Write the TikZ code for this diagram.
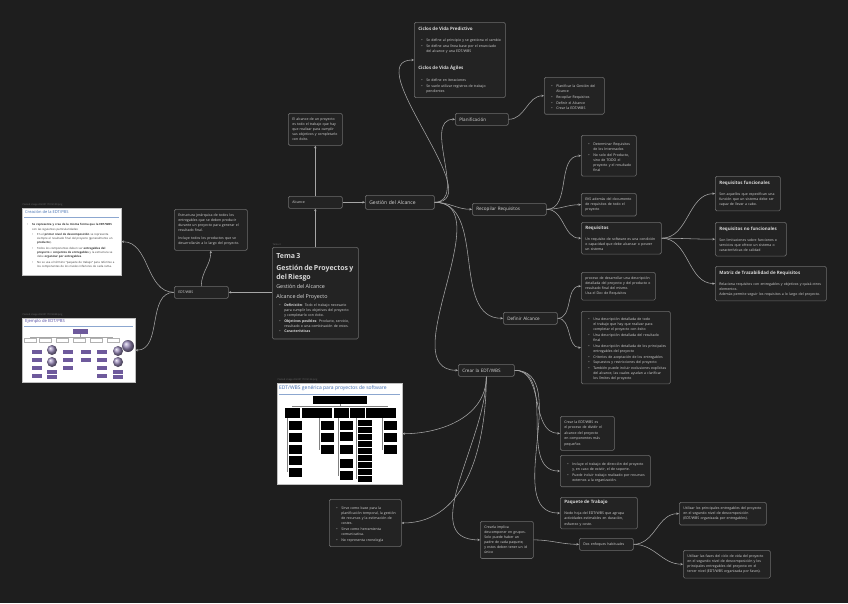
\documentclass[tikz,border=0pt]{standalone}
\usepackage{fontspec}
\setmainfont{Open Sans}
\usetikzlibrary{arrows.meta,positioning,shadings}
\definecolor{bg}{HTML}{1E1E1E}
\definecolor{cardfill}{HTML}{232323}
\definecolor{cardline}{HTML}{6C6C6C}
\definecolor{linkc}{HTML}{A6A6A6}
\definecolor{txt}{HTML}{D8D8D8}
\definecolor{capgray}{HTML}{6A6A6A}
\definecolor{imgblue}{HTML}{3F6CB0}
\definecolor{wbspurple}{HTML}{6E5A9C}
\hyphenpenalty=10000
\exhyphenpenalty=10000
\newcommand\fs[2]{\fontsize{#1}{#2}\selectfont}
\newcommand\bul[1]{\par\vspace{0.6pt}\noindent\hangindent=8pt\hangafter=1\hspace*{3pt}\makebox[5pt][l]{\textbullet}#1\par}
\newcommand\subbul[1]{\par\vspace{1.5pt}\noindent\hangindent=13pt\hangafter=1\hspace*{8pt}\makebox[5pt][l]{\textbullet}#1\par}
\newcommand\ttl[1]{\vspace*{1.5pt}{\fs{4.5}{6}\bfseries #1}\par\vspace{4.5pt}}

\begin{document}
\begin{tikzpicture}[x=1pt,y=-1pt,
    card/.style={draw=cardline,fill=cardfill,line width=0.6pt,rounded corners=1.5pt,anchor=north west,align=left,text=txt,inner xsep=4pt,inner ysep=4.5pt,font=\fs{3.5}{5.1}},
    topic/.style={card,inner ysep=3pt,minimum height=12pt,font=\fs{4.6}{5.5}},
    imgcap/.style={anchor=south west,inner sep=0.5pt,text=capgray,font=\fs{2.4}{3}},
    pic/.style={draw=gray!50,fill=white,anchor=north west,inner sep=0pt},
    link/.style={draw=linkc,line width=0.55pt,-{Stealth[length=2.6pt,width=2.4pt]}},
]
\useasboundingbox[fill=bg] (0,0) rectangle (848,603);

% central topic
\node[card,text width=78pt,inner ysep=6pt] (tema) at (272,247) {%
  {\fs{7}{8.6}\bfseries Tema 3\par\vspace{3.5pt}Gestión de Proyectos y del Riesgo\par}\vspace{2.5pt}
  {\fs{5.4}{7}Gestión del Alcance\par\vspace{3pt}Alcance del Proyecto\par}\vspace{2pt}
  \bul{\textbf{Definición}: Todo el trabajo necesario para cumplir los objetivos del proyecto y completarlo con éxito.}
  \bul{\textbf{Objetivos posibles}: Producto, servicio, resultado o una combinación de estos.}
  \bul{\textbf{Características}}};
\node[imgcap] at (272,246) {Tema 3};

\node[card,inner ysep=3pt,minimum height=12pt,text width=46pt] (alc) at (288,196) {Alcance};
\node[card,text width=46pt] (alctxt) at (288,113) {El alcance de un proyecto es todo el trabajo que hay que realizar para cumplir sus objetivos y completarlo con éxito.};
\node[topic,minimum height=14pt,text width=61pt,font=\fs{5}{6}] (gest) at (365,195) {Gestión del Alcance};

\node[card,text width=83pt] (ciclos) at (414,22) {%
  \ttl{Ciclos de Vida Predictivo}
  \bul{Se define al principio y se gestiona el cambio}
  \bul{Se define una línea base por el enunciado del alcance y una EDT/WBS}\vspace{10pt}
  \ttl{Ciclos de Vida Ágiles}\vspace{2pt}
  \bul{Se define en iteraciones}
  \bul{Se suele utilizar registros de trabajo pendientes}};

\node[topic,text width=45pt] (plan) at (455,113) {Planificación};
\node[card,text width=52pt] (planlist) at (544,77) {%
  \bul{Planificar la Gestión del Alcance}
  \bul{Recopilar Requisitos}
  \bul{Definir el Alcance}
  \bul{Crear la EDT/WBS}};

\node[topic,text width=66pt] (recop) at (472,203) {Recopilar Requisitos};
\node[card,text width=47pt] (reclist) at (581,135) {%
  \bul{Determinar Requisitos de los Interesados}
  \bul{No solo del Producto, sino de TODO el proyecto y el resultado final}};
\node[card,text width=47pt] (eks) at (581,193) {EKS además del documento de requisitos de todo el proyecto};
\node[card,text width=72pt,inner ysep=3.5pt] (req) at (581,222) {\ttl{Requisitos}Un requisito de software es una condición o capacidad que debe alcanzar o poseer un sistema};
\node[card,text width=57pt] (reqf) at (715,176) {\ttl{Requisitos funcionales}Son aquellos que especifican una función que un sistema debe ser capaz de llevar a cabo.};
\node[card,text width=63pt] (reqnf) at (715,222) {\ttl{Requisitos no funcionales}Son limitaciones sobre funciones o servicios que ofrece un sistema o características de calidad};
\node[card,text width=103pt] (matriz) at (715,266) {\ttl{Matriz de Trazabilidad de Requisitos}Relaciona requisitos con entregables y objetivos y quizá otros elementos.\par Además permite seguir los requisitos a lo largo del proyecto.};

\node[topic,text width=46pt] (defin) at (503,312) {Definir Alcance};
\node[card,text width=66pt] (def1) at (581,272) {proceso de desarrollar una descripción detallada del proyecto y del producto o resultado final del mismo.\par Usa el Doc de Requisitos};
\node[card,text width=81pt,inner ysep=3.5pt] (def2) at (581,311) {%
  \bul{Una descripción detallada de todo el trabajo que hay que realizar para completar el proyecto con éxito}
  \bul{Una descripción detallada del resultado final}
  \bul{Una descripción detallada de los principales entregables del proyecto}
  \bul{Criterios de aceptación de los entregables}
  \bul{Supuestos y restricciones del proyecto}
  \bul{También puede incluir exclusiones explícitas del alcance, las cuales ayudan a clarificar los límites del proyecto}};

\node[topic,text width=48pt] (crear) at (458,364) {Crear la EDT/WBS};
\node[card,text width=46pt,font=\fs{3.5}{5.4}] (crear1) at (560,416) {Crear la EDT/WBS es el proceso de dividir el alcance del proyecto en componentes más pequeños};
\node[card,text width=82pt] (crear2) at (560,455) {%
  \bul{Incluye el trabajo de dirección del proyecto y, en caso de existir, el de soporte.}
  \bul{Puede incluir trabajo realizado por recursos externos a la organización.}};
\node[card,text width=69pt,inner ysep=3pt] (paquete) at (560,497) {\ttl{Paquete de Trabajo}Nodo hoja del EDT/WBS que agrupa actividades estimables en duración, esfuerzo y coste.};
\node[card,text width=45pt] (crearla) at (480,521) {Crearla implica descomponer en grupos. Solo puede haber un padre de cada paquete, y estos deben tener un id único};
\node[card,inner ysep=3pt,minimum height=12pt,text width=46pt] (dos) at (579,538) {Dos enfoques habituales};
\node[card,text width=79pt] (enf1) at (679,502) {Utilizar los principales entregables del proyecto en el segundo nivel de descomposición (EDT/WBS organizada por entregables).};
\node[card,text width=79pt] (enf2) at (683,550) {Utilizar las fases del ciclo de vida del proyecto en el segundo nivel de descomposición y los principales entregables del proyecto en el tercer nivel (EDT/WBS organizada por fases).};
\node[card,text width=64pt] (sirve) at (329,499) {%
  \bul{Sirve como base para la planificación temporal, la gestión de recursos y la estimación de costes.}
  \bul{Sirve como herramienta comunicativa.}
  \bul{No representa cronología}};

\node[card,inner ysep=3pt,minimum height=12pt,text width=46pt] (edt) at (174,286) {EDT/WBS};
\node[card,text width=65pt] (estr) at (174,209) {Estructura jerárquica de todos los entregables que se deben producir durante un proyecto para generar el resultado final.\par\vspace{3pt}Incluye todos los productos que se desarrollarán a lo largo del proyecto.};

% pasted images
\node[pic,minimum width=99pt,minimum height=67pt] (creacion) at (22,208) {};
\node[imgcap] at (22,207) {Pasted image 20230117014109.png};
\node[anchor=north west,inner sep=0pt,text=imgblue,font=\fs{4}{5}] at (25,210.5) {Creación de la EDT/PBS};
\draw[imgblue!60,line width=0.4pt] (24,217) -- (119,217);
\node[anchor=north west,inner sep=0pt,text width=93pt,align=left,text=black!80,font=\fs{2.8}{4.1}] at (24,221) {%
  \bul{\textbf{Se representa y crea de la misma forma que la EDT/WBS} con las siguientes particularidades:}
  \subbul{En el \textbf{primer nivel de descomposición} se representa siempre el resultado final del proyecto (generalmente un \textbf{producto}).}
  \subbul{Todos los componentes deben ser \textbf{entregables del proyecto} o \textbf{conjuntos de entregables} y la estructura se debe \textbf{organizar por entregables}.}
  \subbul{No se usa el término “paquete de trabajo” para referirse a los componentes de los niveles inferiores de cada rama.}};

\node[pic,minimum width=113pt,minimum height=64pt] (ejemplo) at (22,318) {};
\node[imgcap] at (22,317) {Pasted image 20230117014048.png};
\node[anchor=north west,inner sep=0pt,text=imgblue!70!violet,font=\fs{4.2}{5}] at (25,319.5) {Ejemplo de EDT/PBS};
\draw[imgblue!60,line width=0.4pt] (24,326.5) -- (133,326.5);
\fill[wbspurple] (73,329) rectangle (88,334);
\draw[gray!70,line width=0.3pt] (80.5,334) -- (80.5,337) (30,337) -- (113,337);
\foreach \cx in {30,45,62,79,96,113}
  \draw[gray!60,fill=white,line width=0.3pt] (\cx-6,338.5) rectangle (\cx+6,342.5);
\foreach \cx/\cy in {37/352,37/360,37/368,37/376,68/352,68/360,68/368,86/352,86/360,102/352,102/360,102/368,102/376,52/372,52/377,118/372,118/377}
  \fill[wbspurple] (\cx-5,\cy-2) rectangle (\cx+5,\cy+2);
\foreach \cx/\cy/\r in {52/350/5,52/362/5,118/351/5,118/362/5,128/346/6}
  \shade[ball color=wbspurple!70] (\cx,\cy) circle (\r);

\node[pic,minimum width=125pt,minimum height=101pt] (generica) at (277,383) {};
\node[imgcap] at (277,382) {Pasted image 20230117014124.png};
\node[anchor=north west,inner sep=0pt,text=imgblue,font=\fs{5}{6}] at (279,385.5) {EDT/WBS genérica para proyectos de software};
\draw[imgblue!60,line width=0.4pt] (279,394.5) -- (400,394.5);
\fill[black] (313,396) rectangle (367,404);
\draw[gray,line width=0.3pt] (340,404) -- (340,406) (292,406) -- (388,406);
\foreach \cx in {292,309,324,341,357,373,388}
  \fill[black] (\cx-7.5,407.5) rectangle (\cx+7.5,417.5);
\foreach \cx/\cy in {295.5/421,295.5/433,295.5/445,295.5/456,295.5/468,327.5/421,327.5/433,327.5/445,346.5/421,346.5/432,346.5/445,346.5/459,346.5/471,390/421,390/433,390/445}
  \fill[black] (\cx-6.5,\cy) rectangle (\cx+6.5,\cy+9);
\foreach \cy in {420,427,434,441,448,455,462,469,476}
  \fill[black] (358,\cy) rectangle (372,\cy+6);
\draw[gray,line width=0.3pt] (287,418) -- (287,472) (319,418) -- (319,450) (338,418) -- (338,476) (356,418) -- (356,479) (382,418) -- (382,450);

% connectors
\draw[link] (alc.east) -- (gest.west);
\draw[link] (alc.north) -- (alctxt.south);
\draw[link] (tema.north) -- (alc.south);
\draw[link] (edt.east -| tema.west) -- (edt.east);
\draw[link] (edt.north) to[out=90,in=-90] (estr.south);
\draw[link] (edt.west) to[out=180,in=0] (creacion.east);
\draw[link] (edt.west) to[out=180,in=0] (ejemplo.east);
\draw[link] (gest.east) to[out=0,in=180] (ciclos.west);
\draw[link] (gest.east) to[out=0,in=180] (plan.west);
\draw[link] (plan.east) to[out=0,in=180] (planlist.west);
\draw[link] (gest.east) to[out=0,in=180] (recop.west);
\draw[link] (gest.east) to[out=0,in=180] (defin.west);
\draw[link] (gest.east) to[out=0,in=180] (crear.west);
\draw[link] (recop.east) to[out=0,in=180] (reclist.west);
\draw[link] (recop.east) to[out=0,in=180] (eks.west);
\draw[link] (recop.east) to[out=0,in=180] (req.west);
\draw[link] (req.east) to[out=0,in=180] (reqf.west);
\draw[link] (req.east) to[out=0,in=180] (reqnf.west);
\draw[link] (req.east) to[out=0,in=180] (matriz.west);
\draw[link] (defin.east) to[out=0,in=180] (def1.west);
\draw[link] (defin.east) to[out=0,in=180] (def2.west);
\draw[link] (crear.east) to[out=0,in=180] (crear1.west);
\draw[link] (crear.east) to[out=0,in=180] (crear2.west);
\draw[link] (crear.east) to[out=0,in=180] (paquete.west);
\draw[link] (crear.south) to[out=-90,in=0] (generica.east);
\draw[link] (crear.south) to[out=-90,in=0] (sirve.east);
\draw[link] (crear.south) to[out=-90,in=180] (crearla.west);
\draw[link] (crearla.east) to[out=0,in=180] (dos.west);
\draw[link] (dos.east) to[out=0,in=180] (enf1.west);
\draw[link] (dos.east) to[out=0,in=180] (enf2.west);
\end{tikzpicture}
\end{document}
